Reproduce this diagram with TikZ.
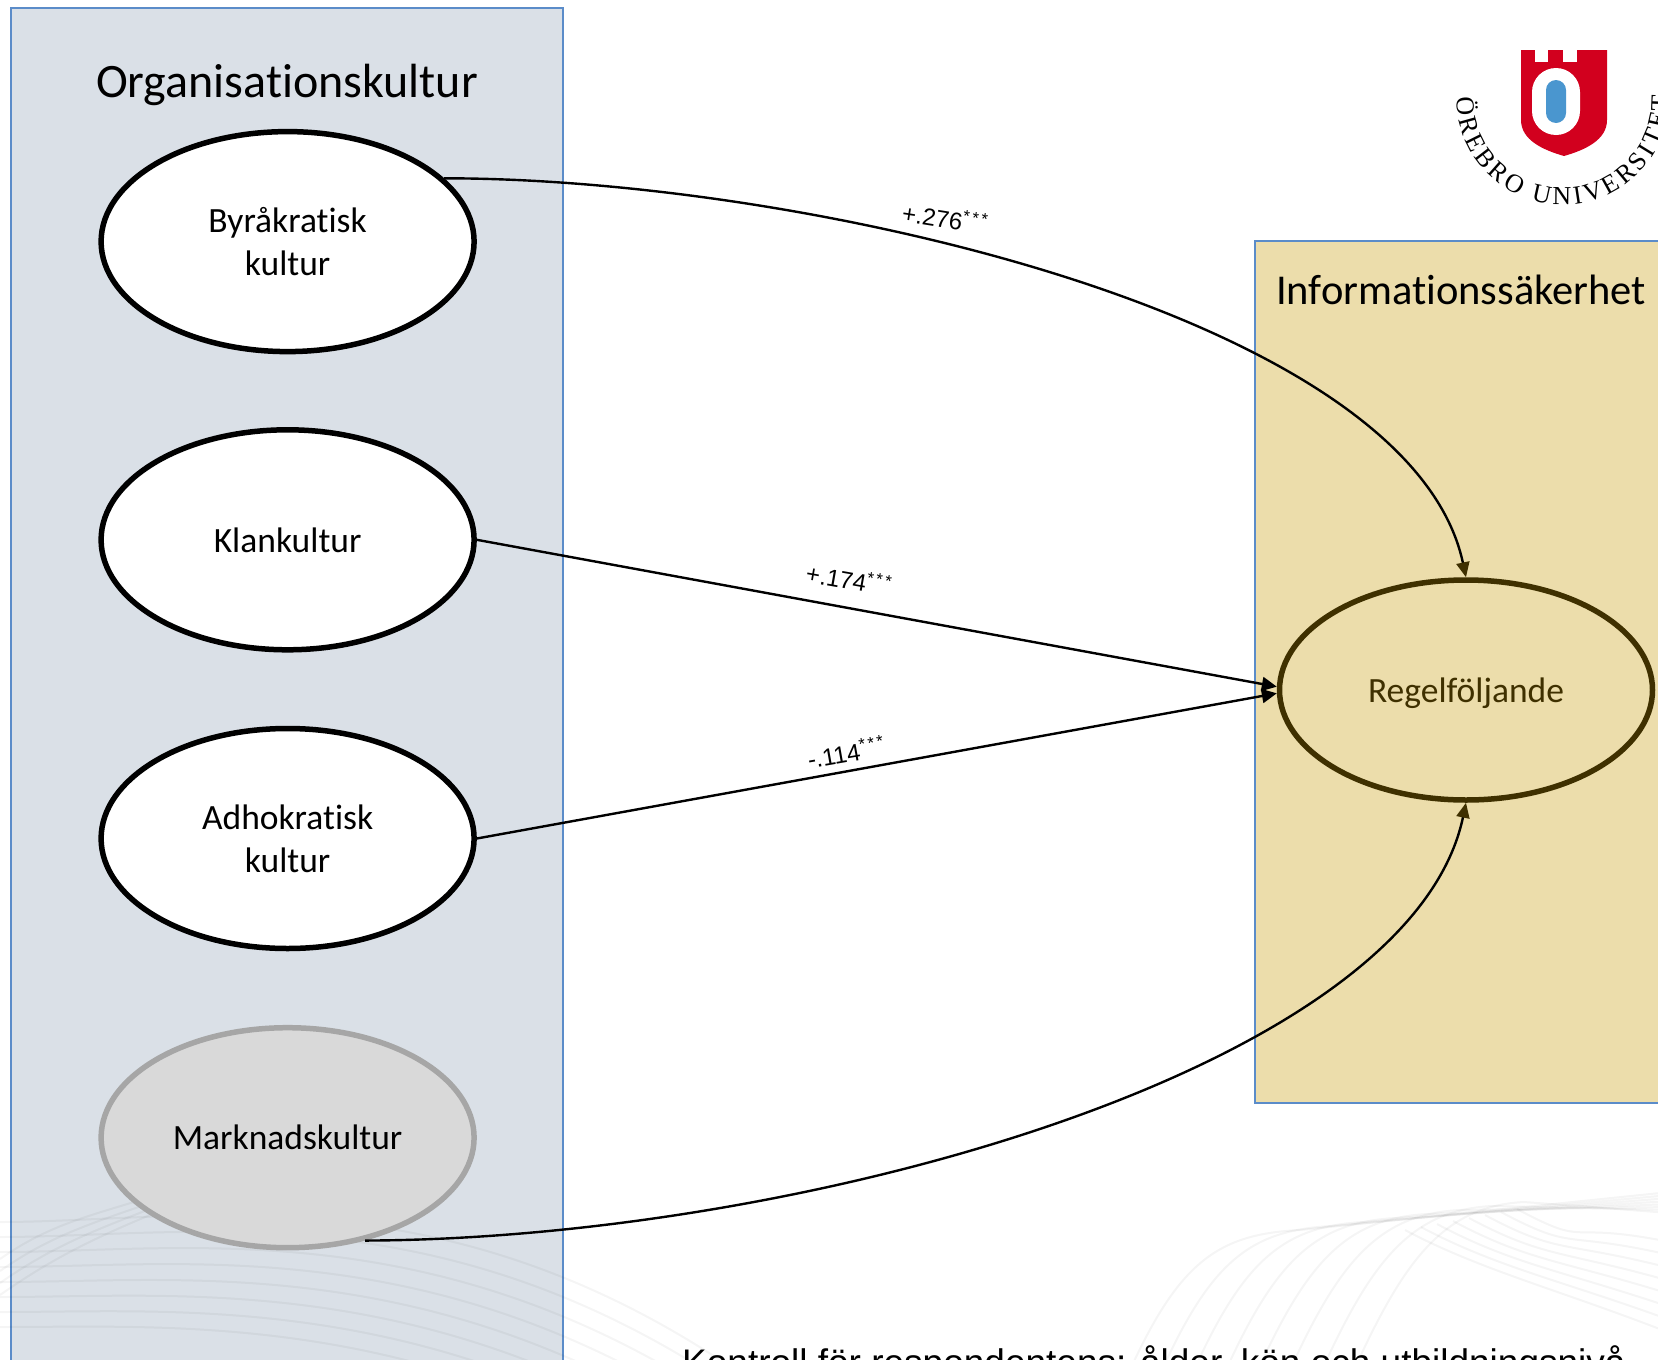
\documentclass[tikz,border=0pt]{standalone}
\usepackage{fontspec}
\setmainfont{Carlito}[Ligatures=NoCommon]
\newfontfamily\labelfont{Liberation Sans}
\newfontfamily\logofont{Liberation Serif}
\usepackage{xcolor}
\usepackage{tikz}
\usetikzlibrary{arrows.meta,shapes,decorations.text,positioning}
\definecolor{kulturbg}{HTML}{DAE0E7}
\definecolor{sakerbg}{HTML}{ECDDAB}
\definecolor{boxline}{HTML}{5B8CC9}
\definecolor{regelbrown}{HTML}{3F3000}
\definecolor{logored}{HTML}{D2001E}
\definecolor{logoblue}{HTML}{4A96CF}
\newcommand{\starmark}{\textsuperscript{*\hspace{2.5pt}*\hspace{2.5pt}*}}
\tikzset{
    panel/.style={draw=boxline,line width=1.5pt},
    heading/.style={font=\fontsize{48}{54}\selectfont},
    kultur/.style={draw,ellipse,line width=5.5pt,fill=white,minimum width=373pt,minimum height=220pt,inner sep=0pt,align=center,font=\fontsize{35.5}{43}\selectfont},
    coeff/.style={font=\labelfont\fontsize{24}{26}\selectfont,inner sep=0pt},
    link/.style={line width=2.4pt,-{Triangle[length=15pt,width=14pt]}},
    curvelink/.style={line width=2.4pt,-{Triangle[length=15pt,width=13pt,color=regelbrown]}},
    wave/.style={draw=black,opacity=.04,line width=2pt}
}
\begin{document}
\begin{tikzpicture}[x=1pt,y=-1pt]
    \useasboundingbox (0,0) rectangle (1658,1360);
    \clip (0,0) rectangle (1658,1360);
    \fill[kulturbg] (11,8) rectangle (563,1400);
    \draw[panel] (11,8) rectangle (563,1400);
    \fill[sakerbg] (1255,241) rectangle (1700,1103);
    \draw[panel] (1255,241) rectangle (1700,1103);
    \foreach \k in {0,...,7} {
        \draw[wave] (0,1327-15*\k) .. controls (180,1327-15*\k) and (430,1310-20*\k) .. (720,1500-20*\k);
        \draw[wave] (1130+32*\k,1370) .. controls (1180+32*\k,1260) and (1220+32*\k,1234-4*\k) .. (1300+32*\k,1230-4*\k) -- (1670,1192+3*\k);
        \draw[wave] (1405+16*\k,1230-3*\k) .. controls (1480+16*\k,1270-3*\k) and (1560,1290-10*\k) .. (1670,1333-13*\k);
    }
    \foreach \k in {0,...,3} {
        \draw[wave] (0,1295-12*\k) .. controls (50,1260-12*\k) and (90,1240-8*\k) .. (150,1215-6*\k);
    }
    \path
        (287.6,241.6)   node[kultur] (byra){Byråkratisk\\kultur}
     ++ (0,298.2)       node[kultur] (klan){Klankultur}
     ++ (0,298.7)       node[kultur] (adho){Adhokratisk\vphantom{å}\\kultur}
     ++ (0,299.2)       node[kultur,fill=black!15,draw=black!35] (mark){Marknadskultur}
     ;
    \node[kultur,fill=sakerbg,draw=regelbrown,text=regelbrown,text depth=0pt] (regel) at (1466,690) {Regelföljande};
    \node[heading] (orgtitle) at (287,85) {Organisationskultur};
    \node[heading,font=\fontsize{42.5}{50}\selectfont] (infotitle) at (1461,290) {Informationssäkerhet};
    \draw[curvelink] (byra.22) .. controls (800,178) and (1410,315) .. (regel.north);
    \draw[link] (klan.east)--(regel.179.5);
    \draw[link] (adho.east)--(regel.181.5);
    \draw[curvelink] (mark.-53) .. controls (800,1239) and (1410,1070) .. (regel.south);
    \node[coeff,rotate=-9] (coeffbyra) at (945,218) {+.276\starmark};
    \node[coeff,rotate=-10] (coeffklan) at (849,579) {+.174\starmark};
    \node[coeff,rotate=10] (coeffadho) at (846,752) {-.114\starmark};
    \node[anchor=base west,inner sep=0pt,font=\labelfont\fontsize{37}{42}\selectfont] (kontroll) at (682,1375) {Kontroll för respondentens: ålder, kön och utbildningsnivå};
    \fill[logored] (1521,50) -- (1607,50) -- (1607,120) .. controls (1607,140) and (1585,150) .. (1564,156) .. controls (1543,150) and (1521,140) .. (1521,120) -- cycle;
    \fill[white] (1535,50) rectangle (1548,62);
    \fill[white] (1563,50) rectangle (1577,62);
    \fill[white] (1532,92) arc[start angle=180,end angle=360,x radius=24,y radius=24] -- (1580,111) arc[start angle=0,end angle=180,x radius=24,y radius=24] -- cycle;
    \fill[logoblue] (1546,90) arc[start angle=180,end angle=360,x radius=10,y radius=10] -- (1566,113) arc[start angle=0,end angle=180,x radius=10,y radius=10] -- cycle;
    \path[decorate,decoration={text along path,text align={fit to path},text={|\logofont\fontsize{26}{26}\selectfont|ÖREBRO UNIVERSITET}}]
        (1457,97) arc[start angle=181,end angle=-2,radius=106];
\end{tikzpicture}
\end{document}
